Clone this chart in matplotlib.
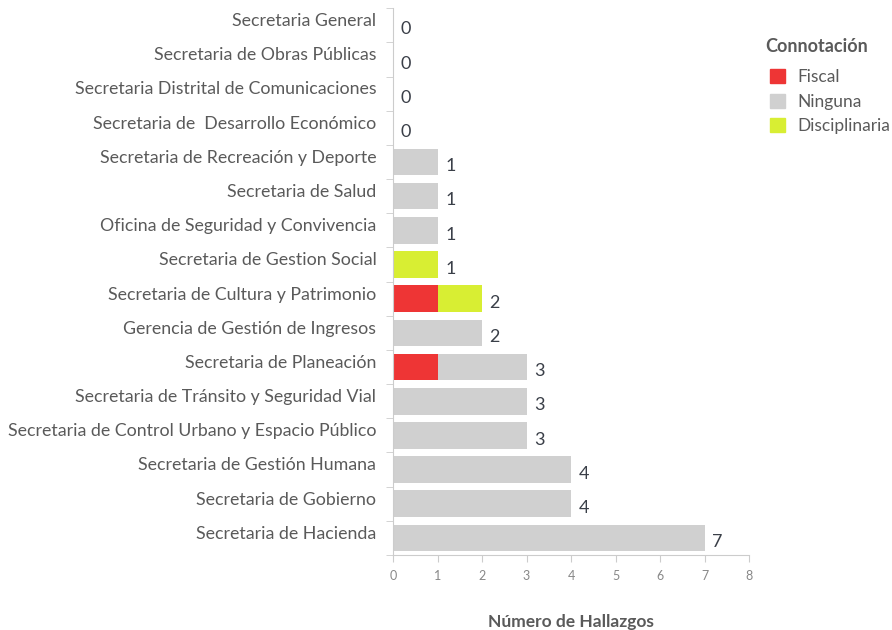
import numpy as np
import matplotlib.pyplot as plt
from matplotlib.patches import Patch

# Datos (de arriba hacia abajo)
categorias = [
    "Secretaria General",
    "Secretaria de Obras Públicas",
    "Secretaria Distrital de Comunicaciones",
    "Secretaria de  Desarrollo Económico",
    "Secretaria de Recreación y Deporte",
    "Secretaria de Salud",
    "Oficina de Seguridad y Convivencia",
    "Secretaria de Gestion Social",
    "Secretaria de Cultura y Patrimonio",
    "Gerencia de Gestión de Ingresos",
    "Secretaria de Planeación",
    "Secretaria de Tránsito y Seguridad Vial",
    "Secretaria de Control Urbano y Espacio Público",
    "Secretaria de Gestión Humana",
    "Secretaria de Gobierno",
    "Secretaria de Hacienda",
]
fiscal = [0, 0, 0, 0, 0, 0, 0, 0, 1, 0, 1, 0, 0, 0, 0, 0]
ninguna = [0, 0, 0, 0, 1, 1, 1, 0, 0, 2, 2, 3, 3, 4, 4, 7]
disciplinaria = [0, 0, 0, 0, 0, 0, 0, 1, 1, 0, 0, 0, 0, 0, 0, 0]
series = ["Fiscal", "Ninguna", "Disciplinaria"]

c_fiscal = "#EE3535"
c_ninguna = "#D0D0D0"
c_disc = "#D8EE33"
c_texto = "#5a5a5a"

plt.rcParams["font.family"] = ["Lato", "DejaVu Sans"]

fig = plt.figure(figsize=(8.92, 6.3), dpi=100)
ax = fig.add_axes([0.4406, 0.119, 0.3991, 0.868])

y = np.arange(len(categorias))
fiscal = np.array(fiscal)
ninguna = np.array(ninguna)
disciplinaria = np.array(disciplinaria)
h = 0.78

ax.barh(y, fiscal, height=h, color=c_fiscal)
ax.barh(y, ninguna, height=h, left=fiscal, color=c_ninguna)
ax.barh(y, disciplinaria, height=h, left=fiscal + ninguna, color=c_disc)

total = fiscal + ninguna + disciplinaria
for i, t in enumerate(total):
    ax.annotate(str(t), xy=(t, i), xytext=(5.5, -3), textcoords="offset points",
                ha="left", va="center", fontsize=13, color="#3a3f48")

ax.set_xlim(0, 8)
ax.set_ylim(len(categorias) - 0.5, -0.5)
ax.set_xticks(range(9))
ax.tick_params(axis="x", length=5, color="#cccccc", labelsize=9,
               labelcolor="#888888", pad=6)

# etiquetas de categorías
ax.set_yticks(y)
ax.set_yticklabels([])
ax.tick_params(axis="y", which="major", length=0)
ax.set_yticks(np.arange(len(categorias) + 1) - 0.5, minor=True)
ax.tick_params(axis="y", which="minor", length=5, color="#cccccc")
for i, c in enumerate(categorias):
    ax.annotate(c, xy=(0, i), xycoords=("axes fraction", "data"),
                xytext=(-12, 3), textcoords="offset points",
                ha="right", va="center", fontsize=12.75, color=c_texto)

for s in ["top", "right"]:
    ax.spines[s].set_visible(False)
ax.spines["left"].set_color("#cccccc")
ax.spines["bottom"].set_color("#cccccc")

ax.set_xlabel("Número de Hallazgos", fontsize=12.5, fontweight="bold",
              color=c_texto, labelpad=23)

# leyenda
fig.text(765 / 892, 1 - 47 / 630, "Connotación", fontsize=13, fontweight="bold",
         color=c_texto, ha="left", va="center")
handles = [Patch(color=c_fiscal), Patch(color=c_ninguna), Patch(color=c_disc)]
leg = fig.legend(handles, series, loc="upper left",
                 bbox_to_anchor=(770 / 892, 1 - 69 / 630), frameon=False,
                 fontsize=12.5, handlelength=0.85, handleheight=0.85,
                 handletextpad=0.75, labelspacing=0.5, borderaxespad=0,
                 borderpad=0)
for txt in leg.get_texts():
    txt.set_color(c_texto)

fig.savefig("out.png", dpi=100)
